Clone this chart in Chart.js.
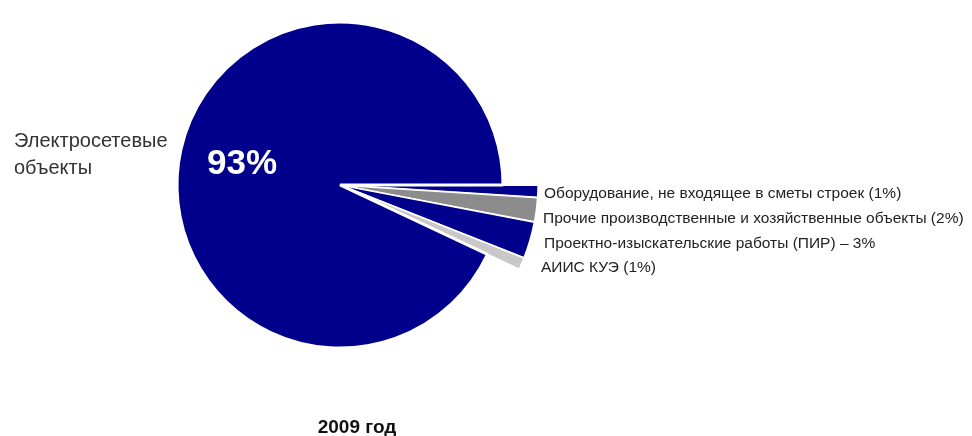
<!DOCTYPE html>
<html>
<head>
<meta charset="utf-8">
<script src="https://cdn.jsdelivr.net/npm/chart.js@4/dist/chart.umd.min.js"></script>
<style>
  html, body { margin: 0; padding: 0; background: #fff; }
  #wrap { width: 972px; height: 436px; position: relative; }
</style>
</head>
<body>
<div id="wrap"><canvas id="pieChart" width="972" height="436"></canvas></div>
<script>
// clockwise from east (3 o'clock)
const categories = [
    'Оборудование, не входящее в сметы строек (1%)',
    'Прочие производственные и хозяйственные объекты (2%)',
    'Проектно-изыскательские работы (ПИР) – 3%',
    'АИИС КУЭ (1%)',
    'Электросетевые объекты'
];
const shares = [1, 2, 3, 1, 93];
const sliceColors = ['#00008C', '#8C8C8C', '#00008C', '#C8C8C8', '#00008C'];
const mainLabel = '93%';
const yearTitle = '2009 год';

// longer small slices, like the exploded wedges in the picture
const wedgePlugin = {
    id: 'wedges',
    beforeDatasetsDraw(chart) {
        const meta = chart.getDatasetMeta(0);
        meta.data.forEach((arc, i) => {
            if (i < 4) arc.outerRadius = meta.data[4].outerRadius * 1.2;
        });
    },
    afterDraw(chart) {
        const ctx = chart.ctx;
        const meta = chart.getDatasetMeta(0);
        const main = meta.data[4];
        ctx.save();
        ctx.textBaseline = 'middle';

        // right side labels
        ctx.fillStyle = '#222';
        ctx.font = '15.5px "Liberation Sans", Arial, sans-serif';
        ctx.textAlign = 'left';
        const labelX = [544, 543, 544, 541];
        const labelY = [194, 219, 244, 268];
        for (let i = 0; i < 4; i++) {
            ctx.fillText(categories[i], labelX[i], labelY[i]);
        }

        // left label
        ctx.font = '20px "Liberation Sans", Arial, sans-serif';
        ctx.fillStyle = '#333';
        ctx.fillText('Электросетевые', 14, 141);
        ctx.fillText('объекты', 14, 168);

        // percent on the big slice
        ctx.fillStyle = '#fff';
        ctx.font = 'bold 35px "Liberation Sans", Arial, sans-serif';
        ctx.textAlign = 'center';
        ctx.fillText(mainLabel, main.x - 98, 164);

        // title below
        ctx.fillStyle = '#111';
        ctx.font = 'bold 19px "Liberation Sans", Arial, sans-serif';
        ctx.fillText(yearTitle, 357, 428);
        ctx.restore();
    }
};

const ctx = document.getElementById('pieChart').getContext('2d');
new Chart(ctx, {
    type: 'pie',
    data: {
        labels: categories,
        datasets: [{
            data: shares,
            backgroundColor: sliceColors,
            borderColor: '#fff',
            borderWidth: [1.5, 1.5, 1.5, 1.5, 3],
            offset: [5, 5, 5, 5, 0],
            clip: false
        }]
    },
    options: {
        responsive: false,
        animation: false,
        rotation: 90,
        layout: {
            padding: { left: 173, right: 465, top: 18, bottom: 84 }
        },
        plugins: {
            legend: { display: false },
            tooltip: { enabled: false }
        }
    },
    plugins: [wedgePlugin]
});
</script>
</body>
</html>
